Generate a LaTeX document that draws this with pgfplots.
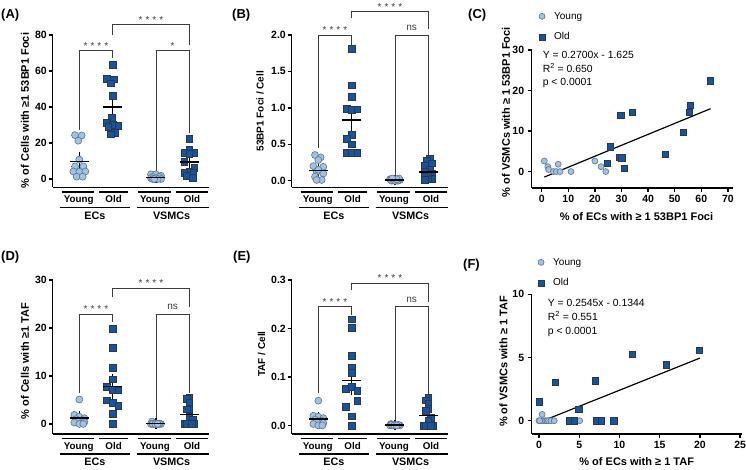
\documentclass[border=0pt]{standalone}
\usepackage{fontspec}
\setmainfont{Liberation Sans}
\usepackage{pgfplots}
\pgfplotsset{compat=1.18}
\definecolor{youngfill}{RGB}{157,195,230}
\definecolor{youngedge}{RGB}{95,115,140}
\definecolor{oldfill}{RGB}{22,84,160}
\definecolor{oldedge}{RGB}{45,55,75}
\definecolor{brkc}{RGB}{60,60,60}
\newcommand{\tfont}{\bfseries\fontsize{10.5}{12}\selectfont}
\newcommand{\lfont}{\bfseries\fontsize{11}{13}\selectfont}
\newcommand{\lsfont}{\bfseries\fontsize{10}{12}\selectfont}
\newcommand{\cfont}{\bfseries\fontsize{9.8}{11}\selectfont}
\newcommand{\gfont}{\bfseries\fontsize{10.8}{12}\selectfont}
\newcommand{\sfont}{\fontsize{10}{12}\selectfont}
\newcommand{\pfont}{\bfseries\fontsize{13}{15}\selectfont}
\pgfplotsset{
 young/.style={only marks, mark=*, mark size=3.5pt, mark options={fill=youngfill, draw=youngedge, line width=0.6pt}},
 old/.style={only marks, mark=square*, mark size=3.4pt, mark options={fill=oldfill, draw=oldedge, line width=0.6pt}},
 smleg/.style={legend image code/.code={\draw[##1] plot coordinates {(0pt,0pt)};}},
 msem/.style={only marks, mark=-, mark size=9.5pt, mark options={line width=1.5pt, draw=black},
   error bars/.cd, y dir=both, y explicit, error mark=-,
   error bar style={line width=1.4pt, black},
   error mark options={line width=1.4pt, mark size=5pt, black}},
 base/.style={scale only axis, axis x line=bottom, axis y line=left,
   axis line style={-, line width=1.4pt, black},
   tick align=outside, major tick length=4pt,
   tick style={line width=1.3pt, black},
   ticklabel style={font=\tfont},
   /pgf/number format/assume math mode=true,
   label style={font=\lfont},
   clip=false},
 dotaxis/.style={base, width=156.8pt, xmin=0.195, xmax=4.9, xtick=\empty,
   yticklabel style={inner xsep=1.5pt}},
}
\newcommand{\brk}[5]{\draw[brkc, line width=0.9pt] (axis cs:#1,#2) -- (axis cs:#1,#3) -- (axis cs:#4,#3) -- (axis cs:#4,#5);}
\newcommand{\stars}[3]{\node[text=brkc, anchor=base, font=\sfont] at ([yshift=1.5pt]axis cs:#1,#2) {#3};}
\newcommand{\ns}[2]{\node[text=brkc, anchor=base, font=\sfont] at ([yshift=4.5pt]axis cs:#1,#2) {ns};}
\newcommand{\four}{*\hspace{3pt}*\hspace{3pt}*\hspace{3pt}*}
\newcommand{\cats}[1]{%
 \draw[line width=1.3pt] ([yshift=-4.5pt]axis cs:0.47,#1) -- ([yshift=-4.5pt]axis cs:1.45,#1);
 \draw[line width=1.3pt] ([yshift=-4.5pt]axis cs:1.6,#1) -- ([yshift=-4.5pt]axis cs:2.45,#1);
 \draw[line width=1.3pt] ([yshift=-4.5pt]axis cs:2.77,#1) -- ([yshift=-4.5pt]axis cs:3.75,#1);
 \draw[line width=1.3pt] ([yshift=-4.5pt]axis cs:3.9,#1) -- ([yshift=-4.5pt]axis cs:4.85,#1);
 \node[anchor=base, font=\cfont] at ([yshift=-15.5pt]axis cs:0.98,#1) {Young};
 \node[anchor=base, font=\cfont] at ([yshift=-15.5pt]axis cs:2.03,#1) {Old};
 \node[anchor=base, font=\cfont] at ([yshift=-15.5pt]axis cs:3.27,#1) {Young};
 \node[anchor=base, font=\cfont] at ([yshift=-15.5pt]axis cs:4.38,#1) {Old};
 \draw[line width=1.3pt] ([yshift=-20pt]axis cs:0.42,#1) -- ([yshift=-20pt]axis cs:2.52,#1);
 \draw[line width=1.3pt] ([yshift=-20pt]axis cs:2.72,#1) -- ([yshift=-20pt]axis cs:4.9,#1);
 \node[anchor=base, font=\gfont] at ([yshift=-32pt]axis cs:1.47,#1) {ECs};
 \node[anchor=base, font=\gfont] at ([yshift=-32pt]axis cs:3.77,#1) {VSMCs};
}
\begin{document}
\begin{tikzpicture}
\useasboundingbox (0,0) rectangle (746pt,470pt);
\node[anchor=west, font=\pfont, inner sep=0pt] at (1pt,455pt) {(A)};
\node[anchor=west, font=\pfont, inner sep=0pt] at (232pt,455pt) {(B)};
\node[anchor=west, font=\pfont, inner sep=0pt] at (468pt,455pt) {(C)};
\node[anchor=west, font=\pfont, inner sep=0pt] at (1pt,213.3pt) {(D)};
\node[anchor=west, font=\pfont, inner sep=0pt] at (233pt,213.3pt) {(E)};
\node[anchor=west, font=\pfont, inner sep=0pt] at (463pt,205pt) {(F)};

% ---------------- A
\begin{axis}[dotaxis, at={(52.5pt,282.5pt)}, anchor=south west, height=152.5pt,
  ymin=-4.7, ymax=80, ytick={0,20,40,60,80},
  ylabel={\% of Cells with ≥1 53BP1 Foci},
  ylabel style={at={(axis description cs:-0.175,0.505)}, anchor=center}]
\addplot[young] coordinates {(0.87,24.4)(1.07,24.2)(0.97,21.3)(1.0,10.8)(0.87,7.0)(1.12,7.0)(0.82,4.2)(1.0,4.0)(1.18,4.2)(0.92,1.3)(1.1,1.3)};
\addplot[old] coordinates {(2.0,63.3)(1.82,55.8)(2.03,55.4)(1.95,53.2)(2.0,46.4)(1.98,34.2)(1.82,31.2)(2.0,30.1)(2.17,29.7)(1.87,29.2)(2.07,25.8)(1.95,24.8)};
\addplot[young] coordinates {(3.15,2.6)(3.3,2.6)(3.45,1.8)(3.2,1.2)(3.4,1.2)(3.15,0.5)(3.3,0.5)(3.45,0)(3.2,0)(3.35,0)(3.25,0)};
\addplot[old] coordinates {(4.3,22.4)(4.3,16.4)(4.15,14.7)(4.45,14.7)(4.3,13.9)(4.15,9.6)(4.45,6.1)(4.3,4.3)(4.15,3.6)(4.42,3.4)(4.22,2.0)(4.4,0.8)};
\addplot[msem] coordinates {(1,9.6) +- (0,2.8) (2,39.9) +- (0,4.2) (3.3,0.9) +- (0,0.35) (4.3,9.5) +- (0,2.5)};
\brk{1}{27.2}{71.3}{2}{67.1}
\brk{3.3}{4.1}{71.3}{4.3}{25.4}
\brk{2}{80}{85.6}{4.3}{74.4}
\stars{1.5}{71.3}{\four}
\stars{3.8}{71.3}{*}
\stars{3.15}{85.6}{\four}
\cats{-4.7}
\end{axis}

% ---------------- B
\begin{axis}[dotaxis, at={(291.5pt,282.5pt)}, anchor=south west, height=152.5pt,
  ymin=-0.093, ymax=2.0, ytick={0,0.5,1,1.5,2},
  yticklabel style={/pgf/number format/.cd, fixed, fixed zerofill, precision=1},
  ylabel={53BP1 Foci / Cell},
  ylabel style={font=\lsfont, at={(axis description cs:-0.2,0.5)}, anchor=center}]
\addplot[young] coordinates {(0.9,0.353)(1.07,0.32)(1.0,0.284)(0.85,0.2)(1.15,0.19)(0.95,0.124)(1.15,0.1)(0.9,0.055)(1.1,0.01)(0.95,0.01)(1.0,0.15)};
\addplot[old] coordinates {(2,1.81)(2,1.31)(2,1.15)(1.85,0.99)(2.0,0.97)(2.17,0.98)(2,0.63)(1.85,0.57)(2.0,0.5)(1.85,0.38)(2.0,0.38)(2.17,0.38)};
\addplot[young] coordinates {(3.15,0.02)(3.3,0.02)(3.45,0.01)(3.2,0.0)(3.38,0.0)(3.25,0.01)(3.42,0.03)(3.18,0.01)(3.3,0.0)(3.35,0.02)(3.22,0.03)};
\addplot[old] coordinates {(4.35,0.3)(4.25,0.28)(4.4,0.24)(4.2,0.2)(4.35,0.15)(4.2,0.12)(4.4,0.1)(4.3,0.08)(4.18,0.05)(4.42,0.03)(4.3,0.02)(4.2,0.01)};
\addplot[msem] coordinates {(1,0.14) +- (0,0.035) (2,0.835) +- (0,0.125) (3.3,0.01) +- (0,0.004) (4.3,0.12) +- (0,0.03)};
\brk{1}{0.449}{2.0}{2}{1.863}
\brk{3.3}{0.078}{2.0}{4.3}{0.33}
\brk{2}{2.23}{2.32}{4.3}{2.078}
\stars{1.5}{2.0}{\four}
\ns{3.8}{2.0}
\stars{3.15}{2.32}{\four}
\cats{-0.093}
\end{axis}

% ---------------- D
\begin{axis}[dotaxis, at={(52.5pt,36pt)}, anchor=south west, height=154pt,
  ymin=-2.09, ymax=30, ytick={0,10,20,30},
  ylabel={\% of Cells with ≥1 TAF},
  ylabel style={at={(axis description cs:-0.175,0.474)}, anchor=center}]
\addplot[young] coordinates {(1,5.1)(0.85,1.9)(1.0,1.5)(1.15,1.2)(0.9,1.0)(1.1,0.8)(0.95,0.6)(1.15,0.4)(0.85,0.3)(1.0,0)(1.12,0)};
\addplot[old] coordinates {(2,19.9)(2,15.8)(2,11.65)(2,9.3)(1.83,7.7)(2.0,7.2)(2.17,7.0)(1.83,4.95)(2.0,4.4)(2.17,3.8)(2,2.06)(2,0)};
\addplot[young] coordinates {(3.18,0.5)(3.3,0)(3.15,0)(3.45,0)(3.22,0)(3.38,0)(3.3,0.1)(3.2,0.05)(3.4,0.05)(3.28,0)(3.35,0)};
\addplot[old] coordinates {(4.3,5.55)(4.22,5.24)(4.3,4.42)(4.3,3.15)(4.22,3.04)(4.3,1.5)(4.4,0.9)(4.15,0)(4.3,0)(4.45,0)(4.22,0)(4.38,0)};
\addplot[msem] coordinates {(1,1.2) +- (0,0.45) (2,7.8) +- (0,1.65) (3.3,0.05) +- (0,0.05) (4.3,2.0) +- (0,0.63)};
\brk{1}{6.39}{22.85}{2}{21.31}
\brk{3.3}{1.30}{22.85}{4.3}{6.39}
\brk{2}{26.52}{28.27}{4.3}{24.44}
\stars{1.5}{22.85}{\four}
\ns{3.8}{22.85}
\stars{3.15}{28.27}{\four}
\cats{-2.09}
\end{axis}

% ---------------- E
\begin{axis}[dotaxis, at={(291.5pt,36pt)}, anchor=south west, height=154pt,
  ymin=-0.0177, ymax=0.3, ytick={0,0.1,0.2,0.3},
  yticklabel style={/pgf/number format/.cd, fixed, fixed zerofill, precision=1},
  ylabel={TAF / Cell},
  ylabel style={font=\lsfont, at={(axis description cs:-0.19,0.52)}, anchor=center}]
\addplot[young] coordinates {(1,0.051)(0.85,0.02)(1.0,0.018)(1.15,0.015)(0.9,0.012)(1.1,0.01)(0.95,0.008)(1.15,0.005)(0.85,0.003)(1.0,0)(1.12,0)};
\addplot[old] coordinates {(2,0.219)(2,0.202)(2,0.144)(2,0.12)(2,0.108)(1.83,0.075)(2.0,0.08)(2.17,0.072)(2.17,0.05)(1.83,0.039)(2,0.019)(2,0)};
\addplot[young] coordinates {(3.18,0.003)(3.3,0)(3.15,0)(3.45,0)(3.22,0)(3.38,0)(3.3,0.001)(3.2,0.001)(3.4,0.001)(3.28,0)(3.35,0)};
\addplot[old] coordinates {(4.3,0.057)(4.22,0.052)(4.3,0.045)(4.3,0.035)(4.22,0.03)(4.38,0.015)(4.3,0.01)(4.15,0)(4.3,0)(4.45,0)(4.22,0)(4.38,0)};
\addplot[msem] coordinates {(1,0.013) +- (0,0.004) (2,0.093) +- (0,0.019) (3.3,0.0004) +- (0,0.0003) (4.3,0.02) +- (0,0.006)};
\brk{1}{0.0663}{0.2449}{2}{0.2278}
\brk{3.3}{0.0112}{0.2449}{4.3}{0.0628}
\brk{2}{0.2794}{0.2932}{4.3}{0.2552}
\stars{1.5}{0.2449}{\four}
\ns{3.8}{0.2449}
\stars{3.15}{0.2932}{\four}
\cats{-0.0177}
\end{axis}

% ---------------- C
\begin{axis}[base, at={(531.7pt,282pt)}, anchor=south west, width=201.5pt, height=138pt,
  xmin=-3.76, xmax=72, ymin=-4.06, ymax=30,
  xtick={0,10,...,70}, ytick={0,10,20,30},
  xlabel={\% of ECs with ≥ 1 53BP1 Foci},
  ylabel={\% of VSMCs with ≥ 1 53BP1 Foci},
  xlabel style={at={(axis description cs:0.52,-0.208)}, anchor=center},
  ylabel style={at={(axis description cs:-0.128,0.55)}, anchor=center},
  legend style={at={(axis description cs:0.035,1.29)}, anchor=north west, draw=none, fill=none,
    font=\fontsize{10}{12}\selectfont, row sep=8pt, inner sep=0pt,
    /tikz/every odd column/.append style={column sep=7pt}},
  legend cell align=left]
\addplot[young, mark size=3pt, smleg] coordinates {(1.0,2.6)(2.3,1.2)(2.6,0.5)(4.4,0)(5.5,0)(6.2,1.8)(6.9,0)(11.0,0)(20.0,2.6)(22.3,1.2)(24.1,0)};
\addlegendentry{Young}
\addplot[old, mark size=3.1pt, smleg] coordinates {(24.8,2.0)(25.8,6.1)(29.2,3.6)(29.7,13.9)(30.1,3.4)(31.2,0.8)(34.2,14.7)(46.4,4.3)(53.2,9.6)(55.4,14.7)(55.8,16.4)(63.3,22.4)};
\addlegendentry{Old}
\addplot[black, line width=1.2pt, forget plot] coordinates {(1.0,-1.355)(63.5,15.52)};
\node[anchor=north west, align=left, font=\fontsize{10.4}{13.5}\selectfont, inner sep=0pt] at (axis description cs:0.054,0.99) {Y = 0.2700x - 1.625\\R\textsuperscript{2} = 0.650\\p < 0.0001};
\end{axis}

% ---------------- F
\begin{axis}[base, at={(531.7pt,36pt)}, anchor=south west, width=210pt, height=139.7pt,
  xmin=-0.9, xmax=25.2, ymin=-1.05, ymax=10,
  xtick={0,5,...,25}, ytick={0,5,10},
  xlabel={\% of ECs with ≥ 1 TAF},
  ylabel={\% of VSMCs with ≥ 1 TAF},
  xlabel style={at={(axis description cs:0.5,-0.198)}, anchor=center},
  ylabel style={at={(axis description cs:-0.135,0.52)}, anchor=center},
  legend style={at={(axis description cs:0.029,1.274)}, anchor=north west, draw=none, fill=none,
    font=\fontsize{10}{12}\selectfont, row sep=8pt, inner sep=0pt,
    /tikz/every odd column/.append style={column sep=7pt}},
  legend cell align=left]
\addplot[young, mark size=3pt, smleg] coordinates {(0,0)(0.3,0)(0.4,0.5)(0.6,0)(0.8,0)(1.0,0)(1.2,0)(1.5,0)(1.9,0)(5.06,0)(0.1,0)};
\addlegendentry{Young}
\addplot[old, mark size=3.1pt, smleg] coordinates {(0,1.5)(2.06,3.04)(3.8,0)(4.4,0)(4.95,0.9)(7.0,3.15)(7.2,0)(7.7,0)(9.3,0)(11.65,5.24)(15.8,4.42)(19.9,5.55)};
\addlegendentry{Old}
\addplot[black, line width=1.2pt, forget plot] coordinates {(0,-0.134)(20,4.956)};
\node[anchor=north west, align=left, font=\fontsize{10.4}{13.9}\selectfont, inner sep=0pt] at (axis description cs:0.076,0.966) {Y = 0.2545x - 0.1344\\R\textsuperscript{2} = 0.551\\p < 0.0001};
\end{axis}
\end{tikzpicture}
\end{document}
